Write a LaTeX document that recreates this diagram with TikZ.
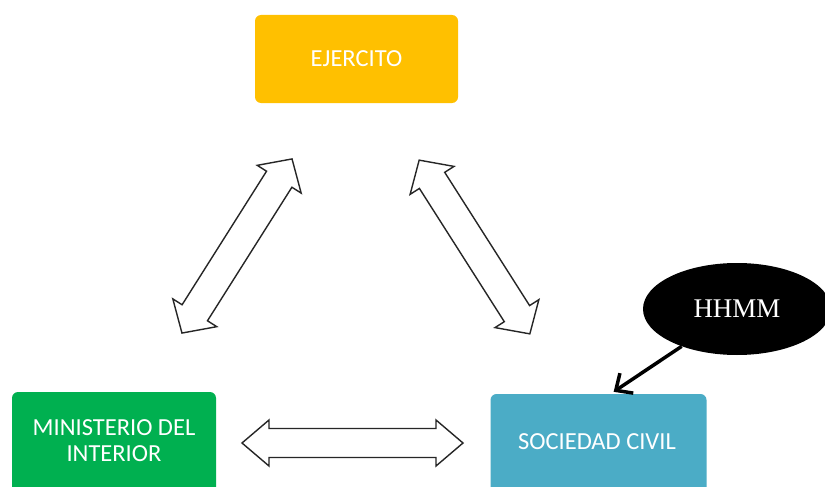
\documentclass[tikz,border=0pt]{standalone}
\usepackage{fontspec}
\setmainfont{Liberation Serif}
\newfontfamily\boxfont{Carlito}
\usetikzlibrary{arrows.meta,shapes.geometric,calc}
\definecolor{ejyellow}{HTML}{FFC000}
\definecolor{migreen}{HTML}{00B050}
\definecolor{scblue}{HTML}{4BACC6}
\tikzset{
  orgbox/.style={rounded corners=6pt, text=white, font=\boxfont\fontsize{24.5}{26}\selectfont, align=center, inner sep=0pt},
  boxlabel/.style={text=white, font=\boxfont\fontsize{24.5}{26}\selectfont, align=center, inner sep=0pt},
  blockarrow/.style={draw=black!85, line width=1.4pt, fill=white, line join=miter},
  linkarrow/.style={line width=3.5pt, -{Straight Barb[length=13pt,width=24pt,line width=3.5pt]}}
}
\begin{document}
\begin{tikzpicture}[x=1pt,y=-1pt]
\clip (0,0) rectangle (825,487);
\fill[white] (0,0) rectangle (825,487);
% boxes
\node[orgbox, fill=ejyellow, minimum width=203pt, minimum height=88pt] (ej) at (356.5,59) {EJERCITO};
\node[orgbox, fill=migreen, minimum width=204pt, minimum height=110pt] (mi) at (114,447) {};
\node[boxlabel] (mitext) at (114,441) {MINISTERIO DEL\\INTERIOR};
\node[orgbox, fill=scblue, minimum width=216pt, minimum height=110pt] (sc) at (598.5,449) {};
\node[boxlabel] (sctext) at (597,442) {SOCIEDAD CIVIL};
% block arrows
\begin{scope}[shift={(237,246)}, rotate=57.7]
\draw[blockarrow] (-103,0) -- (-79,26) -- (-79,15) -- (79,15) -- (79,26) -- (103,0) -- (79,-26) -- (79,-15) -- (-79,-15) -- (-79,-26) -- cycle;
\end{scope}
\begin{scope}[shift={(474.5,247)}, rotate=-57.5]
\draw[blockarrow] (-103,0) -- (-79,26) -- (-79,15) -- (79,15) -- (79,26) -- (103,0) -- (79,-26) -- (79,-15) -- (-79,-15) -- (-79,-26) -- cycle;
\end{scope}
\begin{scope}[shift={(352.5,443)}]
\draw[blockarrow] (-110.5,0) -- (-83.5,23) -- (-83.5,14.5) -- (83.5,14.5) -- (83.5,23) -- (110.5,0) -- (83.5,-23) -- (83.5,-14.5) -- (-83.5,-14.5) -- (-83.5,-23) -- cycle;
\end{scope}
% HHMM
\node[ellipse, fill=black, minimum width=188pt, minimum height=92pt, inner sep=0pt, text=white, font=\fontsize{27}{30}\selectfont] (hh) at (737,309) {HHMM};
\coordinate (scin) at ($(sc.north west)!0.57!(sc.north east)+(0,-2)$);
\draw[linkarrow] (hh.214) -- (scin);
\end{tikzpicture}
\end{document}
